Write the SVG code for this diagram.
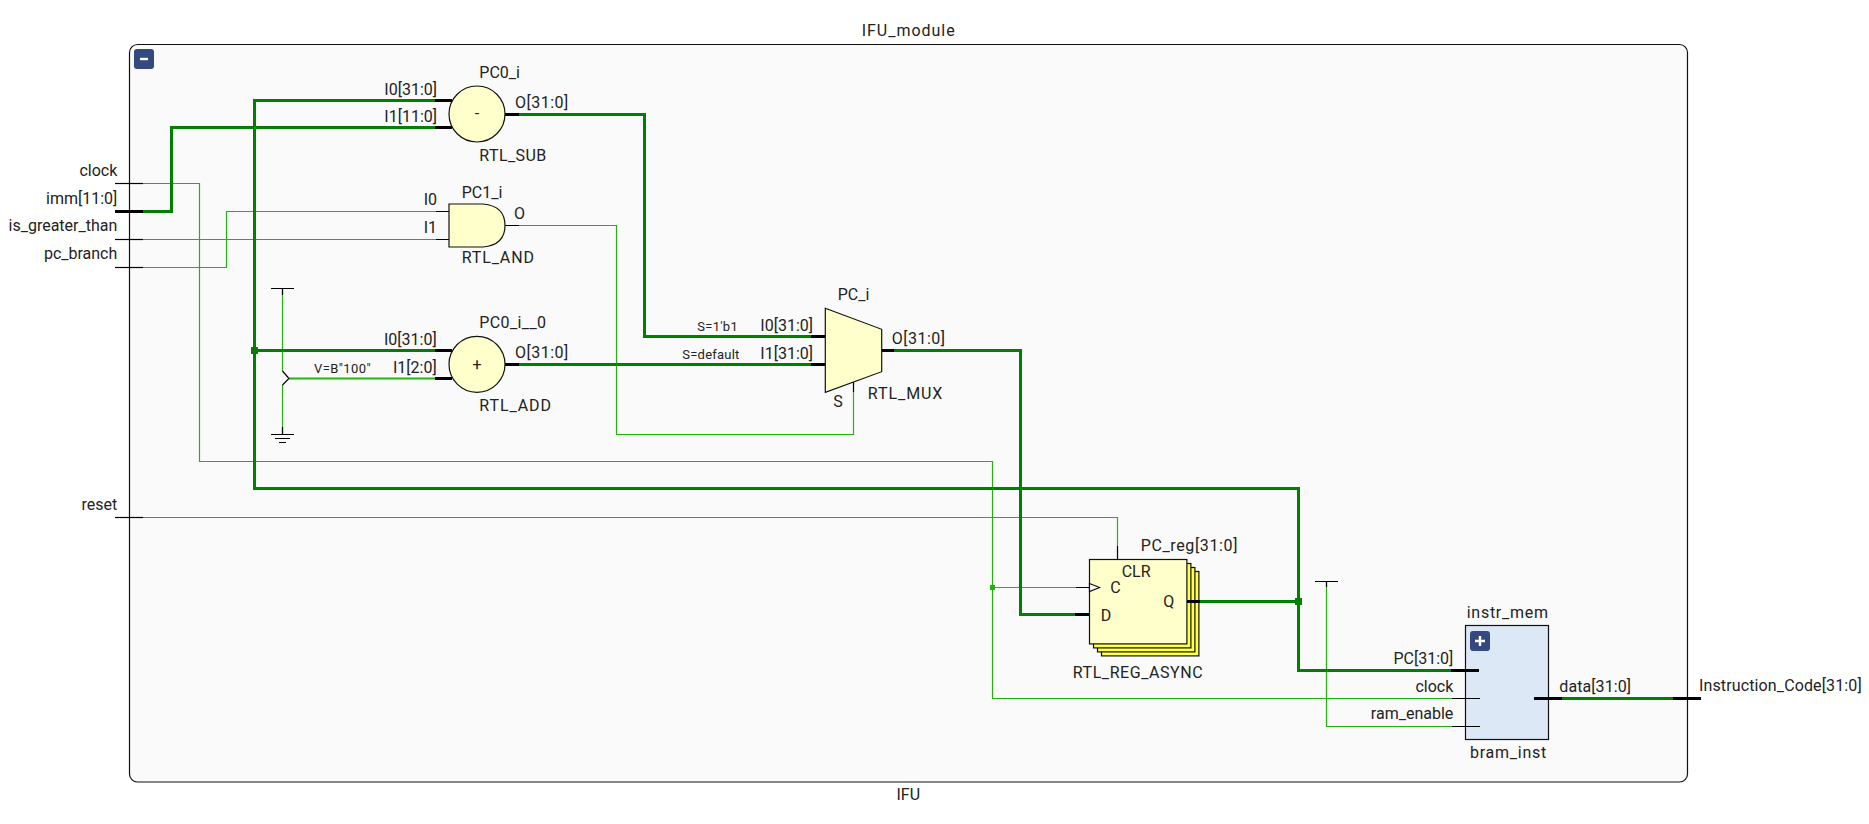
<svg xmlns="http://www.w3.org/2000/svg" width="1869" height="824" viewBox="0 0 1869 824">
<style>
text{font-family:Roboto,"Noto Sans","Liberation Sans",sans-serif;font-size:16px;fill:#222}
.s{font-size:13px}
.e{text-anchor:end}
.m{text-anchor:middle}
path{fill:none}
.n{stroke:#22b30f;stroke-width:1.2}
.b{stroke:#008000;stroke-width:3}
.kn{stroke:#000;stroke-width:1.2}
.kb{stroke:#000;stroke-width:3}
.sh{stroke:#111;stroke-width:1.2;fill:#ffffcc}
.bk{stroke:#111;stroke-width:1.2;fill:#ffff4d}
.j1{fill:#22b30f}
.j2{fill:#008000}
.btn{fill:#34497f}
.bt{stroke:#fff;stroke-width:2.4;fill:none}
</style>
<rect width="1869" height="824" fill="#fff"/>
<g id="IFU_module">
<rect x="129.5" y="44.5" width="1558" height="737.5" rx="8" fill="#fafafa" stroke="#111" stroke-width="1.2"/>
<rect class="btn" x="134" y="49" width="20" height="20" rx="3"/>
<path class="bt" d="M140 59H148"/>
<text x="861.7" y="36" textLength="93">IFU_module</text>
<text class="m" x="908.3" y="800">IFU</text>
</g>
<g id="connectors">
<path class="n" d="M143 183.5H199.5V461.5H992.5V698.5H1452"/>
<path class="n" d="M143 239.5H436"/>
<path class="n" d="M143 267.5H226.5V211.5H436"/>
<path class="n" d="M519 225.5H616.5V434.5H853.5V392"/>
<path class="n" d="M143 517.5H1117.5V546"/>
<path class="n" d="M992.5 587.5H1076"/>
<path class="n" d="M1326.5 581.5V726.5H1452"/>
<path class="n" d="M282.5 288.5V371M282.5 385V434.5"/>
<path class="n" style="stroke-width:2" d="M289 378.5H435"/>
<path class="b" d="M436 100.5H254.5V488.5H1298.5V670.5H1451"/>
<path class="b" d="M436 127.5H171.5V211.5H143"/>
<path class="b" d="M254.5 350.5H436"/>
<path class="b" d="M519 114.5H644.5V336.5H811"/>
<path class="b" d="M519 364.5H811"/>
<path class="b" d="M894 350.5H1020.5V614.5H1075"/>
<path class="b" d="M1200 601.5H1298.5"/>
<path class="b" d="M1562 698.5H1673"/>
<rect class="j2" x="251" y="347" width="7" height="7"/>
<rect class="j2" x="1295" y="598" width="7" height="7"/>
<rect class="j1" x="990" y="585" width="5" height="5"/>
</g>
<g id="clock"><path class="kn" d="M115 183.5H143"/><text class="e" x="117.3" y="176">clock</text></g>
<g id="imm"><path class="kb" d="M115 211.5H143"/><text class="e" x="117.3" y="203.5">imm[11:0]</text></g>
<g id="is_greater_than"><path class="kn" d="M115 239.5H143"/><text class="e" x="117.3" y="231.3">is_greater_than</text></g>
<g id="pc_branch"><path class="kn" d="M115 267.5H143"/><text class="e" x="117.3" y="259">pc_branch</text></g>
<g id="reset"><path class="kn" d="M115 517.5H143"/><text class="e" x="117.3" y="510">reset</text></g>
<g id="Instruction_Code"><path class="kb" d="M1673 698.5H1701"/><text x="1699" y="690.7" textLength="162.7">Instruction_Code[31:0]</text></g>
<g id="PC0_i">
<path class="kb" d="M435 100.5H452M435 127.5H452M505 114.5H519"/>
<circle class="sh" cx="477" cy="114" r="28"/>
<text class="m" x="477" y="119">-</text>
<text x="479.3" y="78.3">PC0_i</text>
<text class="e" x="437" y="95">I0[31:0]</text>
<text class="e" x="437" y="122.3">I1[11:0]</text>
<text x="515" y="108.3" textLength="53.3">O[31:0]</text>
<text x="479.3" y="161" textLength="67">RTL_SUB</text>
</g>
<g id="PC1_i">
<path class="kn" d="M436 211.5H449M436 239.5H449M505 225.5H519"/>
<path class="sh" d="M449 204H483Q505 206 505 225.5Q505 245 483 247H449Z"/>
<text x="461.7" y="198.3">PC1_i</text>
<text class="e" x="437" y="205">I0</text>
<text class="e" x="437" y="233.3">I1</text>
<text x="514" y="219">O</text>
<text x="461.7" y="262.7" textLength="72.3">RTL_AND</text>
</g>
<g id="PC0_i__0">
<path class="kb" d="M435 350.5H452M435 378.5H452M505 364.5H519"/>
<circle class="sh" cx="477" cy="364.3" r="28"/>
<text class="m" x="477" y="369.5">+</text>
<text x="479.3" y="328.3" textLength="66.7">PC0_i__0</text>
<text class="e" x="436.7" y="345">I0[31:0]</text>
<text class="e" x="436.7" y="373.3">I1[2:0]</text>
<text x="515" y="358" textLength="53.3">O[31:0]</text>
<text x="479.3" y="411" textLength="71.7">RTL_ADD</text>
</g>
<g id="const_vcc_gnd">
<path class="kn" d="M271 288.5H294M282.5 288.5V295M282.5 371L289 378.5L282.5 385M282.5 427V434.5M271 434.5H294M275 438.5H290M279 442.5H286"/>
<text class="s" x="314" y="373" textLength="56.7">V=B"100"</text>
</g>
<g id="PC_i">
<path class="kb" d="M811 336.5H825M811 364.5H825M882 350.5H894"/>
<path class="kn" d="M853.5 392V382"/>
<path class="sh" d="M825.3 308.3L881.7 329.3V371.7L825.3 392.3Z"/>
<text x="837.7" y="300">PC_i</text>
<text class="e" x="813" y="330.7">I0[31:0]</text>
<text class="e" x="813" y="359">I1[31:0]</text>
<text class="s" x="697.3" y="331" textLength="40.4">S=1'b1</text>
<text class="s" x="682.3" y="359" textLength="57">S=default</text>
<text x="891.7" y="344" textLength="53.3">O[31:0]</text>
<text x="867.7" y="399" textLength="74.7">RTL_MUX</text>
<text x="833.3" y="406.7">S</text>
</g>
<g id="PC_reg">
<path class="kn" d="M1117.5 546V559M1076 587.5H1089"/>
<path class="kb" d="M1075 614.5H1089"/>
<rect class="bk" x="1101.5" y="571.5" width="97.4" height="84.4"/>
<rect class="bk" x="1097.5" y="567.5" width="97.4" height="84.4"/>
<rect class="bk" x="1093.5" y="563.5" width="97.4" height="84.4"/>
<rect class="sh" x="1089.5" y="559.5" width="97.4" height="84.4"/>
<path class="sh" d="M1089.5 583.5L1099.5 587.5L1089.5 591.5Z" style="fill:#fff"/>
<path class="kb" d="M1187 601.5H1200"/>
<text x="1140.7" y="551" textLength="96.7">PC_reg[31:0]</text>
<text x="1121.7" y="576.7">CLR</text>
<text x="1110.3" y="593.3">C</text>
<text x="1100.7" y="621">D</text>
<text x="1163.3" y="607.3">Q</text>
<text x="1072.7" y="677.7" textLength="130">RTL_REG_ASYNC</text>
</g>
<g id="power_ram_enable"><path class="kn" d="M1315 581.5H1338M1326.5 581.5V587"/></g>
<g id="instr_mem">
<rect x="1465.5" y="625.5" width="83" height="114" fill="#dde8f7" stroke="#111" stroke-width="1.2"/>
<path class="kb" d="M1451 670.5H1479M1534 698.5H1562"/>
<path class="kn" d="M1452 698.5H1480M1452 726.5H1480"/>
<rect class="btn" x="1470" y="631" width="20" height="20" rx="3"/>
<path class="bt" d="M1475 641H1485M1480 636V646"/>
<text x="1466.7" y="618.3" textLength="81.3">instr_mem</text>
<text class="e" x="1453.3" y="664.3">PC[31:0]</text>
<text class="e" x="1453.3" y="691.5">clock</text>
<text class="e" x="1453.3" y="719.3">ram_enable</text>
<text x="1559.3" y="691.7" textLength="71.7">data[31:0]</text>
<text x="1470" y="757.7" textLength="76.3">bram_inst</text>
</g>
</svg>
